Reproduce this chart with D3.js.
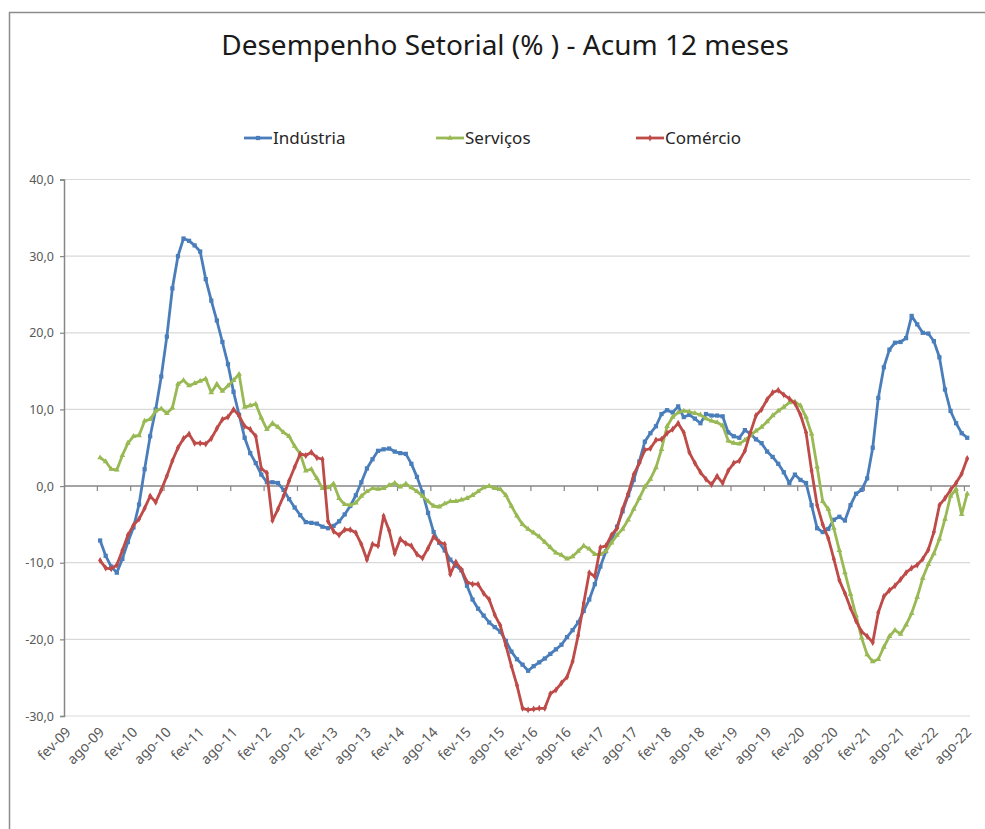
<!DOCTYPE html>
<html>
  <head>
    <meta charset="utf-8">
    <title>Desempenho Setorial</title>
    <script src="https://d3js.org/d3.v7.min.js"></script>
    <style>
      body { margin: 0; background: #fff; }
      text { font-family: "Noto Sans", "Open Sans", sans-serif; }
      .title { font-size: 28px; fill: #1a1a1a; text-anchor: middle; }
      .legend text { font-size: 17px; fill: #262626; }
      .axis text { fill: #595959; }
      .axis--y text { font-size: 12.5px; }
      .grid line { stroke: #d9d9d9; stroke-width: 1.2px; }
      .series path.line { fill: none; stroke-width: 2.8px; stroke-linejoin: round; }
    </style>
  </head>
  <body>
    <svg width="985" height="829"></svg>
    <script>
      const monthNames = ["jan", "fev", "mar", "abr", "mai", "jun", "jul", "ago", "set", "out", "nov", "dez"];

      // categorias mensais de fev-09 a ago-22
      const categories = d3.range(163).map(i => {
        const m = (1 + i) % 12;
        const yr = 2009 + Math.floor((1 + i) / 12);
        return monthNames[m] + "-" + String(yr).slice(2);
      });

      const tickLabels = [
        "fev-09", "ago-09", "fev-10", "ago-10", "fev-11", "ago-11", "fev-12", "ago-12",
        "fev-13", "ago-13", "fev-14", "ago-14", "fev-15", "ago-15", "fev-16", "ago-16",
        "fev-17", "ago-17", "fev-18", "ago-18", "fev-19", "ago-19", "fev-20", "ago-20",
        "fev-21", "ago-21", "fev-22", "ago-22"
      ];

      const yTicks = [-30, -20, -10, 0, 10, 20, 30, 40];

      const firstMonth = "ago-09";

      // ago-09 .. ago-22
      const industria = [
        -7.1, -9.1, -10.5, -11.3, -9.5,
        -7.3, -5.4, -2.4, 2.2, 6.5, 10.0, 14.3, 19.5, 25.8, 30.0, 32.3, 32.0,
        31.4, 30.6, 27.0, 24.2, 21.6, 18.8, 15.9, 12.3, 9.3, 6.3, 4.3, 3.0,
        1.5, 0.5, 0.5, 0.4, -0.5, -1.7, -2.8, -3.8, -4.7, -4.8, -4.9, -5.3,
        -5.5, -5.2, -4.6, -3.7, -2.6, -1.2, 0.5, 2.3, 3.5, 4.6, 4.8, 4.9,
        4.5, 4.3, 4.2, 2.9, 1.2, -0.8, -3.5, -6.0, -7.4, -8.4, -9.6, -10.4,
        -11.0, -13.0, -14.8, -16.0, -16.9, -17.8, -18.4, -19.0, -20.2, -21.6, -22.6, -23.3,
        -24.1, -23.5, -23.0, -22.5, -21.9, -21.3, -20.7, -19.7, -18.8, -17.8, -16.3, -14.8,
        -12.8, -10.5, -8.5, -7.0, -5.3, -3.3, -1.2, 0.8, 3.2, 5.8, 6.9, 7.8,
        9.4, 9.9, 9.6, 10.4, 9.0, 9.3, 8.8, 8.2, 9.4, 9.2, 9.2, 9.1,
        7.0, 6.5, 6.3, 7.3, 6.8, 6.1, 5.6, 4.5, 3.8, 2.9, 1.8, 0.4,
        1.5, 0.8, 0.4, -2.5, -5.5, -6.0, -5.6, -4.4, -4.0, -4.5, -2.5, -1.0,
        -0.5, 1.0, 5.0, 11.5, 15.5, 17.8, 18.7, 18.8, 19.3, 22.2, 21.1, 20.0,
        19.9, 18.9, 16.8, 12.6, 9.8, 8.2, 6.9, 6.3
      ];

      const servicos = [
        3.7, 3.2, 2.2, 2.1, 4.0,
        5.6, 6.5, 6.6, 8.5, 8.7, 9.8, 10.1, 9.5, 10.2, 13.3, 13.8, 13.1,
        13.4, 13.7, 14.0, 12.2, 13.3, 12.4, 13.1, 13.8, 14.6, 10.3, 10.5, 10.7,
        8.9, 7.4, 8.2, 7.7, 7.0, 6.5, 5.2, 4.2, 2.0, 2.2, 1.0, -0.3,
        -0.2, 0.3, -1.6, -2.4, -2.5, -2.2, -1.3, -0.7, -0.3, -0.4, -0.3, 0.1,
        0.4, -0.1, 0.3, -0.2, -0.7, -1.3, -2.0, -2.6, -2.7, -2.3, -2.0, -2.0,
        -1.8, -1.6, -1.2, -0.7, -0.2, 0.0, -0.3, -0.4, -1.2, -2.6, -3.9, -5.0,
        -5.6, -6.1, -6.6, -7.3, -8.0, -8.7, -9.0, -9.5, -9.2, -8.5, -7.8, -8.2,
        -8.9, -8.9, -8.5, -7.4, -6.4, -5.6, -4.4, -3.0, -1.6, -0.1, 0.9, 2.4,
        4.8, 7.8, 9.0, 9.6, 9.8, 9.7, 9.5, 9.3, 8.8, 8.5, 8.3, 7.9,
        5.9, 5.6, 5.5, 6.0, 6.6, 7.2, 7.7, 8.4, 9.2, 9.8, 10.3, 10.9,
        11.0, 10.5, 9.0, 6.8, 2.5, -2.0, -3.0, -5.5, -8.4, -11.3, -14.1, -16.9,
        -19.8, -22.0, -22.9, -22.6, -21.0, -19.6, -18.8, -19.3, -18.1, -16.6, -14.5, -12.0,
        -10.2, -8.8, -6.9, -4.3, -1.3, -0.4, -3.7, -1.0
      ];

      const comercio = [
        -9.7, -10.7, -10.8, -10.3, -8.4,
        -6.4, -5.1, -4.3, -2.9, -1.3, -2.1, -0.5, 1.3, 3.3, 5.0, 6.2, 6.8,
        5.6, 5.6, 5.5, 6.2, 7.5, 8.7, 9.0, 10.0, 9.2, 7.8, 7.4, 6.5,
        2.3, 1.7, -4.5, -3.0, -1.3, 0.7, 2.5, 4.2, 4.0, 4.4, 3.7, 3.5,
        -4.6, -5.9, -6.4, -5.7, -5.7, -6.1, -7.6, -9.6, -7.6, -7.8, -3.9, -5.8,
        -8.8, -6.9, -7.5, -7.8, -8.9, -9.4, -8.1, -6.6, -7.3, -7.6, -11.5, -9.9,
        -10.9, -12.5, -12.8, -12.8, -14.0, -14.8, -16.8, -18.2, -20.8, -23.5, -26.0, -29.0,
        -29.2, -29.1, -29.0, -29.0, -27.1, -26.6, -25.7, -24.9, -22.9, -19.5, -15.3, -11.3,
        -11.8, -8.0, -7.8, -6.4, -5.5, -3.0, -1.0, 1.5, 3.0, 4.7, 4.9, 6.0,
        6.1, 6.9, 7.4, 8.2, 7.0, 4.4, 3.0, 1.8, 0.9, 0.2, 1.3, 0.4,
        2.0, 3.0, 3.3, 4.6, 7.0, 9.2, 10.0, 11.3, 12.2, 12.5, 11.9, 11.4,
        10.8, 9.3, 7.0, 2.0, -2.5, -5.0, -6.8, -9.5, -12.3, -14.0, -15.9, -17.6,
        -19.0, -19.6, -20.4, -16.5, -14.4, -13.6, -13.0, -12.2, -11.3, -10.7, -10.3, -9.5,
        -8.3, -6.0, -2.5, -1.6, -0.5, 0.4, 1.6, 3.6
      ];

      const seriesNames = ["Indústria", "Serviços", "Comércio"];
      const seriesColors = ["#4a7ebb", "#98b954", "#be4b48"];
      const seriesSymbols = [d3.symbolSquare, d3.symbolTriangle, d3.symbolDiamond];

      const ptBR = d3.formatLocale({
        decimal: ",", thousands: ".", grouping: [3], currency: ["R$", ""], minus: "-"
      });
      const fmt = ptBR.format(".1f");

      function gridAndAxes(selection, props){
        const xScale = props.xScale;
        const yScale = props.yScale;
        const left = xScale.range()[0];
        const right = xScale.range()[1];

        const grid = selection.append("g").attr("class", "grid");
        grid.selectAll("line")
          .data(yTicks.filter(d => d !== 0))
          .enter().append("line")
            .attr("x1", left)
            .attr("x2", right)
            .attr("y1", d => yScale(d))
            .attr("y2", d => yScale(d));

        // eixo y
        const yAxis = d3.axisLeft(yScale)
          .tickValues(yTicks)
          .tickSize(4)
          .tickPadding(6)
          .tickFormat(fmt);
        const gy = selection.append("g")
          .attr("class", "axis axis--y")
          .attr("transform", `translate(${left}, 0)`)
          .call(yAxis);
        gy.select(".domain").attr("stroke", "#868686").attr("stroke-width", 1.5);
        gy.selectAll(".tick line").attr("stroke", "#868686").attr("stroke-width", 1.2);
        gy.selectAll(".tick text").attr("x", -10).attr("font-size", null);

        // eixo x na linha do zero
        const y0 = yScale(0);
        const bw = xScale.bandwidth();
        const gx = selection.append("g").attr("class", "axis axis--x");
        gx.append("line")
          .attr("x1", left)
          .attr("x2", right)
          .attr("y1", y0)
          .attr("y2", y0)
          .attr("stroke", "#868686")
          .attr("stroke-width", 1.5);
        gx.selectAll(".xtick")
          .data(tickLabels.slice(1))
          .enter().append("line")
            .attr("class", "xtick")
            .attr("x1", d => xScale(d))
            .attr("x2", d => xScale(d))
            .attr("y1", y0)
            .attr("y2", y0 + 5)
            .attr("stroke", "#868686")
            .attr("stroke-width", 1.2);

        const labelY = yScale.range()[0] + 17;
        gx.selectAll(".xlabel")
          .data(tickLabels)
          .enter().append("text")
            .attr("class", "xlabel")
            .attr("text-anchor", "end")
            .attr("font-size", 14)
            .attr("transform", d => `translate(${xScale(d) + bw / 2 + 5}, ${labelY}) rotate(-45)`)
            .text(d => d);
      }

      function seriesLines(selection, props){
        const xScale = props.xScale;
        const yScale = props.yScale;
        const bw = xScale.bandwidth();
        const line = d3.line()
          .x(d => xScale(d.month) + bw / 2)
          .y(d => yScale(d.value));

        const g = selection.selectAll(".series")
          .data(props.series)
          .enter().append("g")
            .attr("class", "series");

        g.append("path")
          .attr("class", "line")
          .attr("stroke", d => d.color)
          .attr("d", d => line(d.values));

        g.each(function(s){
          d3.select(this).selectAll(".marker")
            .data(s.values)
            .enter().append("path")
              .attr("class", "marker")
              .attr("fill", s.color)
              .attr("transform", d => `translate(${xScale(d.month) + bw / 2}, ${yScale(d.value)})`)
              .attr("d", d3.symbol().type(s.symbol).size(s.size));
        });
      }

      function legend(selection, props){
        const g = selection.append("g").attr("class", "legend");
        const item = g.selectAll(".item")
          .data(props.series)
          .enter().append("g")
            .attr("class", "item")
            .attr("transform", (d, i) => `translate(${props.positions[i]}, ${props.y})`);
        item.append("line")
          .attr("x1", 0)
          .attr("x2", 28)
          .attr("stroke", d => d.color)
          .attr("stroke-width", 2.8);
        item.append("path")
          .attr("transform", "translate(14, 0)")
          .attr("fill", d => d.color)
          .attr("d", d => d3.symbol().type(d.symbol).size(d.size)());
        item.append("text")
          .attr("x", 29)
          .attr("y", 6)
          .text(d => d.name);
      }

      function main(){
        const svg = d3.select("svg");

        svg.append("rect")
          .attr("x", 9.5)
          .attr("y", 12.5)
          .attr("width", 990)
          .attr("height", 830)
          .attr("fill", "none")
          .attr("stroke", "#8c8c8c")
          .attr("stroke-width", 1.5);

        svg.append("text")
          .attr("class", "title")
          .attr("x", 505)
          .attr("y", 55)
          .text("Desempenho Setorial (% ) - Acum 12 meses");

        const xScale = d3.scaleBand()
          .domain(categories)
          .range([64, 970])
          .padding(0);

        const yScale = d3.scaleLinear()
          .domain([-30, 40])
          .range([716, 179.5]);

        const start = categories.indexOf(firstMonth);
        const toPoints = arr => arr.map((v, i) => ({ month: categories[start + i], value: v }));

        const series = [industria, servicos, comercio].map((arr, i) => ({
          name: seriesNames[i],
          color: seriesColors[i],
          symbol: seriesSymbols[i],
          size: i === 0 ? 18 : 14,
          values: toPoints(arr)
        }));

        const plot = svg.append("g");
        gridAndAxes(plot, { xScale, yScale });
        seriesLines(plot, { xScale, yScale, series });

        legend(svg, { series, y: 138, positions: [244, 436, 636] });
      }
      main();
    </script>
  </body>
</html>
